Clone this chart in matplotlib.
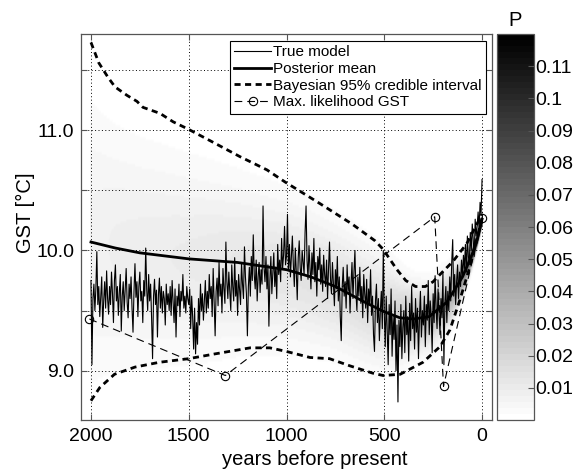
import numpy as np
import matplotlib
matplotlib.use("Agg")
import matplotlib.pyplot as plt
from matplotlib.ticker import MultipleLocator, FuncFormatter

plt.rcParams['font.family'] = ['Liberation Sans', 'DejaVu Sans']

# ---------------- data ----------------
true_years = np.arange(2000, -1, -5)
true_vals = [
    9.75, 9.05, 9.60, 9.72, 9.50, 9.68, 9.99, 9.55, 9.70, 9.45, 9.62, 9.78, 9.36, 9.58, 9.74, 9.52, 9.83, 9.60, 9.47, 9.70,
    9.55, 9.82, 9.64, 9.40, 9.75, 9.88, 9.58, 9.70, 9.46, 9.65, 9.80, 9.33, 9.62, 9.74, 9.50, 9.68, 9.85, 9.57, 9.44, 9.72,
    9.60, 9.78, 9.52, 9.32, 9.66, 9.89, 9.61, 9.74, 9.45, 9.70, 9.82, 9.58, 9.66, 9.40, 9.75, 9.62, 10.02, 9.68, 9.50, 9.80,
    9.58, 9.72, 9.44, 9.10, 9.62, 9.76, 9.55, 9.67, 9.28, 9.63, 9.77, 9.52, 9.70, 9.48, 9.66, 9.60, 9.38, 9.72, 9.55, 9.64,
    9.50, 9.70, 9.46, 9.75, 9.58, 9.40, 9.68, 9.28, 9.62, 9.54, 9.72, 9.45, 9.66, 9.58, 9.80, 9.52, 9.62, 9.48, 9.70, 9.60,
    9.55, 9.68, 9.35, 9.62, 9.45, 9.18, 9.52, 9.14, 9.40, 9.22, 9.60, 9.38, 9.72, 9.50, 9.64, 9.42, 9.58, 9.75, 9.48, 9.66,
    9.52, 9.80, 9.60, 9.70, 9.45, 9.85, 9.58, 9.29, 9.66, 9.77, 9.54, 9.90, 9.62, 9.72, 9.48, 9.85, 9.68, 9.56, 10.07, 9.74,
    9.60, 9.82, 9.66, 9.50, 9.88, 9.70, 9.58, 9.94, 9.62, 9.75, 9.46, 9.80, 9.68, 9.55, 9.90, 9.72, 9.60, 10.03, 9.78, 9.64,
    9.29, 9.70, 9.86, 9.62, 9.95, 9.75, 10.13, 9.80, 9.68, 9.92, 9.58, 9.78, 9.90, 9.65, 9.84, 9.72, 10.37, 9.86, 9.74, 9.95,
    9.68, 9.88, 9.37, 9.75, 9.95, 9.64, 9.82, 9.98, 9.70, 9.86, 9.60, 10.05, 9.80, 9.92, 9.74, 10.10, 9.85, 9.96, 10.20, 9.88,
    9.95, 10.30, 9.84, 10.05, 9.78, 9.96, 10.12, 9.88, 9.70, 10.02, 9.82, 9.59, 9.94, 10.08, 9.86, 9.75, 10.00, 9.90, 9.80, 10.15,
    10.37, 9.92, 9.76, 10.04, 9.85, 9.68, 9.98, 9.80, 10.10, 9.74, 9.90, 9.62, 9.95, 9.84, 10.02, 9.72, 9.88, 9.66, 9.96, 9.80,
    9.70, 9.92, 9.60, 9.85, 10.07, 9.76, 9.64, 9.90, 9.72, 9.54, 9.84, 9.68, 9.95, 9.58, 9.78, 9.45, 9.25, 9.70, 9.86, 9.62,
    9.74, 9.52, 9.88, 9.66, 9.78, 9.48, 9.72, 9.90, 9.60, 9.82, 10.00, 9.65, 9.50, 9.78, 9.62, 9.86, 9.56, 9.70, 9.44, 9.80,
    9.64, 9.52, 9.76, 9.40, 9.68, 9.55, 9.84, 9.46, 9.62, 9.30, 9.16, 9.58, 9.72, 9.40, 9.60, 9.25, 9.50, 9.66, 9.35, 10.00,
    9.48, 9.20, 9.62, 9.35, 9.05, 9.55, 9.30, 9.68, 9.12, 9.45, 9.26, 9.58, 9.00, 9.38, 8.74, 9.42, 9.20, 9.55, 9.10, 9.36,
    9.50, 9.15, 9.62, 9.30, 9.45, 9.08, 9.56, 9.25, 9.70, 9.35, 9.48, 9.18, 9.60, 9.32, 9.52, 9.10, 9.44, 9.66, 9.28, 9.50,
    9.38, 9.62, 9.20, 9.55, 9.42, 9.75, 9.30, 9.58, 9.46, 9.15, 9.64, 9.40, 9.79, 9.52, 9.35, 9.68, 9.48, 9.30, 9.60, 9.44,
    9.82, 9.05, 9.56, 9.70, 9.40, 9.66, 9.50, 9.78, 9.58, 9.90, 10.09, 9.62, 9.80, 9.55, 9.74, 9.88, 9.60, 9.82, 9.70, 9.92,
    9.78, 9.96, 9.85, 10.05, 9.82, 10.12, 9.95, 9.90, 10.15, 10.00, 10.22, 10.08, 9.95, 10.26, 10.12, 10.20, 10.32, 10.18, 10.40, 10.30,
    10.59,
]

post_years = [2000, 1875, 1750, 1500, 1250, 1000, 875, 750, 600, 500, 420, 350, 270, 180, 100, 50, 25, 0]
post_vals = [10.07, 10.02, 9.98, 9.93, 9.90, 9.84, 9.78, 9.70, 9.57, 9.49, 9.44, 9.43, 9.45, 9.57, 9.78, 9.97, 10.09, 10.26]

upper_years = [2000, 1960, 1913, 1877, 1816, 1765, 1734, 1647, 1580, 1504, 1376, 1238, 1100, 1008,
               839, 665, 547, 506, 435, 390, 340, 290, 250, 215, 148, 77, 26, 0]
upper_vals = [11.73, 11.56, 11.44, 11.36, 11.29, 11.24, 11.19, 11.14, 11.07, 11.01, 10.90, 10.78, 10.67, 10.57,
              10.40, 10.22, 10.08, 10.01, 9.84, 9.75, 9.70, 9.70, 9.74, 9.80, 9.91, 10.06, 10.22, 10.30]

lower_years = [2000, 1955, 1880, 1775, 1650, 1500, 1365, 1186, 1085, 1000, 880, 780, 675, 560, 506,
               419, 302, 215, 164, 113, 61, 26, 0]
lower_vals = [8.75, 8.86, 8.97, 9.03, 9.07, 9.10, 9.14, 9.19, 9.19, 9.16, 9.11, 9.10, 9.04, 8.98, 8.96,
              8.97, 9.07, 9.20, 9.34, 9.59, 9.87, 10.10, 10.27]

ml_years = [2008, 1313, 242, 197, 0]
ml_vals = [9.43, 8.96, 10.28, 8.87, 10.27]

cbar_ticks = [0.01, 0.02, 0.03, 0.04, 0.05, 0.06, 0.07, 0.08, 0.09, 0.1, 0.11]

# ---------------- probability field (derived from posterior) ----------------
gy = np.arange(0, 2001, 5)
gt = np.arange(8.55, 11.85, 0.02)
pm = np.interp(gy, post_years[::-1], post_vals[::-1])
up = np.interp(gy, upper_years[::-1], upper_vals[::-1])
lo = np.interp(gy, lower_years[::-1], lower_vals[::-1])
sig = np.maximum((up - lo) / 3.92, 0.03)
P = 0.012 * np.exp(-0.5 * ((gt[:, None] - pm[None, :]) / sig[None, :]) ** 2) / (np.sqrt(2 * np.pi) * sig[None, :])

# ---------------- figure ----------------
fig = plt.figure(figsize=(5.79, 4.70), dpi=100)
ax = fig.add_axes([81 / 579, 50 / 470, 411 / 579, 386 / 470])
cax = fig.add_axes([497 / 579, 50 / 470, 37 / 579, 386 / 470])

cmap = plt.get_cmap('gray_r', 64)
im = ax.imshow(P, extent=[gy[0] - 2.5, gy[-1] + 2.5, gt[0] - 0.01, gt[-1] + 0.01],
               origin='lower', aspect='auto', cmap=cmap, vmin=0, vmax=0.12,
               interpolation='bilinear', zorder=0)

ax.plot(true_years, true_vals, color='black', lw=0.8, label='True model', zorder=3)
ax.plot(post_years, post_vals, color='black', lw=2.0, label='Posterior mean', zorder=4)
ax.plot(upper_years, upper_vals, color='black', lw=2.0, dashes=(2.2, 1.6),
        label='Bayesian 95% credible interval', zorder=4)
ax.plot(lower_years, lower_vals, color='black', lw=2.0, dashes=(2.2, 1.6), zorder=4)
ax.plot(ml_years, ml_vals, color='black', lw=0.8, dashes=(7, 4.5), marker='o', ms=6,
        mfc='none', mec='black', mew=0.8, label='Max. likelihood GST', zorder=5)

ax.set_xlim(2051, -51)
ax.set_ylim(8.59, 11.80)
ax.xaxis.set_major_locator(MultipleLocator(500))
ax.yaxis.set_major_locator(MultipleLocator(0.5))
ax.yaxis.set_major_formatter(FuncFormatter(lambda v, p: ('%.1f' % v) if abs(v - round(v)) < 1e-6 else ''))
ax.grid(True, color='black', linestyle=(0, (1, 2.5)), linewidth=0.7)

spine_col = '#555555'
for s in ax.spines.values():
    s.set_color(spine_col)
    s.set_linewidth(0.9)
ax.tick_params(direction='in', length=4, width=0.8, color=spine_col, labelsize=14,
               top=True, right=True, pad=5)
ax.tick_params(axis='x', pad=6)

ax.set_xlabel('years before present', fontsize=14.5)
ax.xaxis.set_label_coords(0.568, -0.078)
ax.set_ylabel('GST [°C]', fontsize=14.5)
ax.yaxis.set_label_coords(-0.112, 0.536)

leg = ax.legend(loc='upper right', bbox_to_anchor=(0.986, 0.983), fontsize=11, frameon=True,
                fancybox=False, framealpha=1, edgecolor='black', borderpad=0.3,
                labelspacing=0.18, handlelength=2.4, handletextpad=0.15, numpoints=1,
                borderaxespad=0)
leg.get_frame().set_linewidth(0.8)

cb = fig.colorbar(im, cax=cax, ticks=cbar_ticks)
cb.ax.yaxis.set_major_formatter(FuncFormatter(lambda v, p: '%g' % round(v, 3)))
cb.ax.tick_params(direction='in', length=4, width=0.8, color=spine_col, labelsize=14, pad=1)
cb.outline.set_edgecolor(spine_col)
cb.outline.set_linewidth(0.9)
cb.ax.set_title('P', fontsize=14.5, pad=6)

fig.savefig('out.png', dpi=100)
